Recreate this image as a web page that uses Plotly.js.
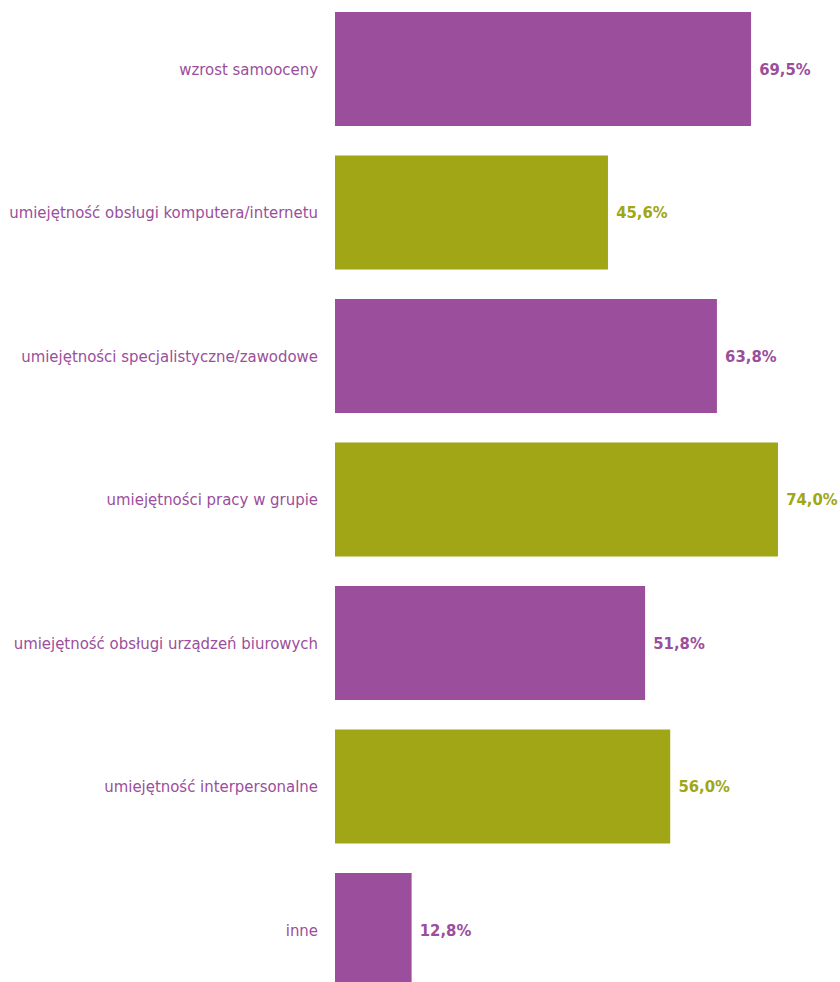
<!DOCTYPE html>
<html><head><meta charset="utf-8">
<script src="https://cdn.plot.ly/plotly-3.0.1.min.js"></script>
<style>html,body{margin:0;padding:0;background:#fff;}#chart{width:840px;height:982px;}</style>
</head><body><div id="chart"></div>
<script>
const categories = [
  "wzrost samooceny",
  "umiejętność obsługi komputera/internetu",
  "umiejętności specjalistyczne/zawodowe",
  "umiejętności pracy w grupie",
  "umiejętność obsługi urządzeń biurowych",
  "umiejętność interpersonalne",
  "inne"
];
const values = [69.5, 45.6, 63.8, 74.0, 51.8, 56.0, 12.8];
const purple = "#9A4E9C", olive = "#A0A616";
const colors = categories.map((c, i) => i % 2 === 0 ? purple : olive);
const labels = values.map(v => " " + v.toFixed(1).replace(".", ",") + "%");

const trace = {
  type: "bar", orientation: "h",
  y: categories, x: values,
  marker: {color: colors},
  text: labels, textposition: "outside", cliponaxis: false,
  textfont: {family: "DejaVu Sans Condensed, Liberation Sans Narrow, sans-serif", size: 16.5, color: colors, weight: "bold"},
  hoverinfo: "none"
};
const layout = {
  width: 840, height: 982,
  margin: {l: 335, r: 0, t: 0, b: 0},
  paper_bgcolor: "#fff", plot_bgcolor: "#fff",
  bargap: 0.205,
  showlegend: false,
  xaxis: {range: [0, 84.36], visible: false, fixedrange: true},
  yaxis: {
    type: "category", range: [6.362, -0.481],
    showgrid: false, zeroline: false, showline: false, ticks: "",
    ticklabelstandoff: 16,
    tickfont: {family: "DejaVu Sans Condensed, Liberation Sans Narrow, sans-serif", size: 16.6, color: purple}
  }
};
Plotly.newPlot("chart", [trace], layout, {displayModeBar: false, staticPlot: true});
</script></body></html>
